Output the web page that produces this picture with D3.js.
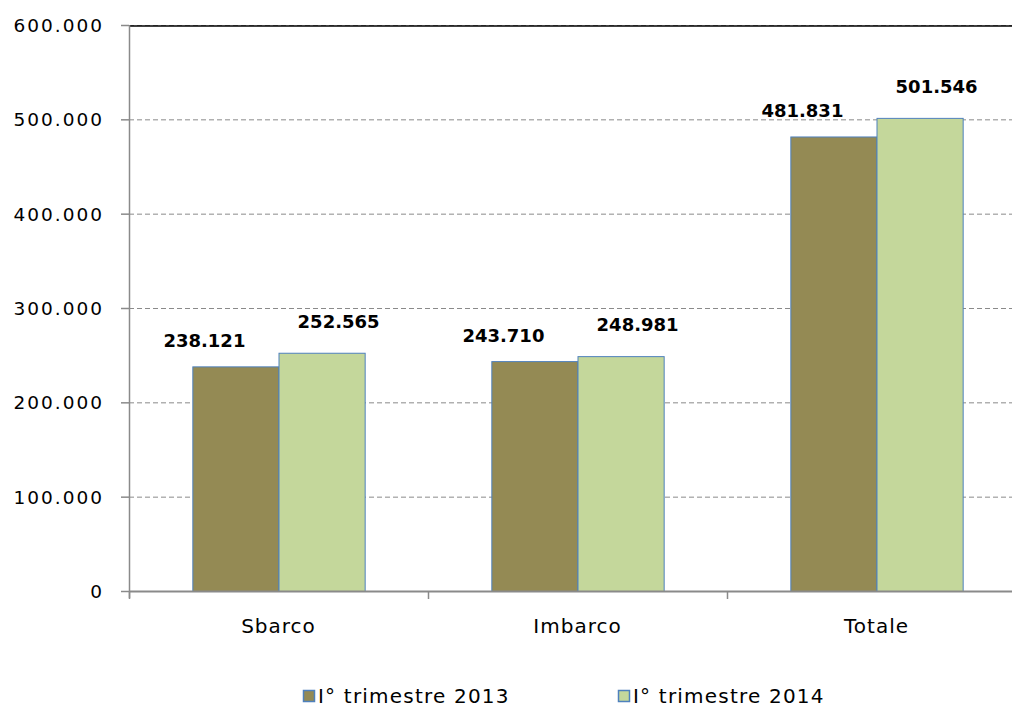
<!DOCTYPE html>
<html>
<head>
<meta charset="utf-8">
<script src="https://cdn.jsdelivr.net/npm/d3@7"></script>
<style>
  body { margin: 0; background: #fff; }
  text { font-family: "DejaVu Sans", Verdana, sans-serif; }
</style>
</head>
<body>
<div id="chart"></div>
<script>
// data
const categories = ["Sbarco", "Imbarco", "Totale"];
const seriesNames = ["I° trimestre 2013", "I° trimestre 2014"];
const values2013 = [238121, 243710, 481831];
const values2014 = [252565, 248981, 501546];
const yTicks = [0, 100000, 200000, 300000, 400000, 500000, 600000];

const colors = ["#948A54", "#C4D79B"];
const labelDx = [-31, 17];
const labelDy = [-19, -25];

const width = 1012, height = 707;
const plotLeft = 129, plotTop = 25, plotBottom = 591, plotRight = 1026;

const svg = d3.select("#chart").append("svg")
    .attr("width", width)
    .attr("height", height);

const x = d3.scaleBand().domain(categories).range([plotLeft, plotRight]).paddingInner(0).paddingOuter(0);
const y = d3.scaleLinear().domain([0, 600000]).range([plotBottom, plotTop]);

const fmt = d => d === 0 ? "0" : d3.format(",")(d).replace(/,/g, ".");

// grid
svg.selectAll(".grid").data(yTicks.filter(d => d > 0))
    .enter().append("line")
    .attr("x1", plotLeft).attr("x2", width)
    .attr("y1", d => y(d) + 0.5).attr("y2", d => y(d) + 0.5)
    .attr("stroke", "#8a8a8a")
    .attr("stroke-dasharray", "5,3");

// top border
svg.append("line")
    .attr("x1", plotLeft).attr("x2", width)
    .attr("y1", plotTop + 1).attr("y2", plotTop + 1)
    .attr("stroke", "#000").attr("stroke-width", 1.5);

// bars
const sub = d3.scaleBand().domain([0, 1]).range([0, x.bandwidth()]).paddingOuter(0.735).paddingInner(0);
const series = [values2013, values2014];

series.forEach((vals, si) => {
    svg.selectAll(".bar" + si).data(vals)
        .enter().append("rect")
        .attr("x", (d, i) => x(categories[i]) + sub(si) + 0.5)
        .attr("y", d => y(d) + 0.5)
        .attr("width", sub.bandwidth())
        .attr("height", d => plotBottom - y(d))
        .attr("fill", colors[si])
        .attr("stroke", "#4F81BD")
        .attr("stroke-width", 1);

    svg.selectAll(".lab" + si).data(vals)
        .enter().append("text")
        .attr("x", (d, i) => x(categories[i]) + sub(si) + sub.bandwidth() / 2 + labelDx[si])
        .attr("y", d => y(d) + labelDy[si])
        .attr("text-anchor", "middle")
        .attr("font-size", 18)
        .attr("font-weight", "bold")
        .text(d => fmt(d));
});

// y axis
svg.append("line")
    .attr("x1", plotLeft + 0.5).attr("x2", plotLeft + 0.5)
    .attr("y1", plotTop).attr("y2", plotBottom + 7)
    .attr("stroke", "#8a8a8a").attr("stroke-width", 1.5);
svg.selectAll(".ytick").data(yTicks)
    .enter().append("line")
    .attr("x1", plotLeft - 8).attr("x2", plotLeft)
    .attr("y1", d => y(d) + 0.5).attr("y2", d => y(d) + 0.5)
    .attr("stroke", "#8a8a8a").attr("stroke-width", 1.5);
svg.selectAll(".ylab").data(yTicks)
    .enter().append("text")
    .attr("x", 104)
    .attr("y", d => y(d) + 7)
    .attr("text-anchor", "end")
    .attr("font-size", 18.5)
    .attr("letter-spacing", 2)
    .text(d => fmt(d));

// x axis
svg.append("line")
    .attr("x1", plotLeft).attr("x2", width)
    .attr("y1", plotBottom + 0.5).attr("y2", plotBottom + 0.5)
    .attr("stroke", "#8a8a8a").attr("stroke-width", 2);
svg.selectAll(".xtick").data(categories)
    .enter().append("line")
    .attr("x1", d => x(d) + 0.5).attr("x2", d => x(d) + 0.5)
    .attr("y1", plotBottom).attr("y2", plotBottom + 8)
    .attr("stroke", "#8a8a8a").attr("stroke-width", 1.5);
svg.selectAll(".xlab").data(categories)
    .enter().append("text")
    .attr("x", d => x(d) + x.bandwidth() / 2)
    .attr("y", 633)
    .attr("text-anchor", "middle")
    .attr("font-size", 20)
    .attr("letter-spacing", 1)
    .text(d => d);

// legend
const legX = [303, 618];
seriesNames.forEach((name, i) => {
    svg.append("rect")
        .attr("x", legX[i] + 0.5).attr("y", 690.5)
        .attr("width", 11).attr("height", 11)
        .attr("fill", colors[i])
        .attr("stroke", "#4F81BD").attr("stroke-width", 1.5);
    svg.append("text")
        .attr("x", legX[i] + 15)
        .attr("y", 703)
        .attr("font-size", 20)
        .attr("letter-spacing", 1.2)
        .text(name);
});
</script>
</body>
</html>
